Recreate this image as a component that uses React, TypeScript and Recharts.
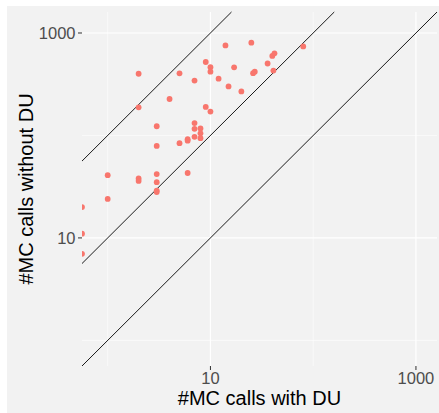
import React from 'react';
import { ScatterChart, Scatter, XAxis, YAxis, ReferenceLine } from 'recharts';

// #MC calls with DU (x) and without DU (y); 0 values are squished to the axis edge like ggplot
const withDU = [0, 0, 0, 1, 1, 2, 2, 2, 2, 3, 3, 3, 3, 3, 3, 4, 5, 5, 6, 6, 6, 7, 7, 7, 7, 8, 8, 8, 9, 9, 10, 10, 10, 12, 14, 15, 17, 20, 25, 26, 27, 36, 40, 42, 41, 80];
const withoutDU = [20, 11, 7, 41, 24, 400, 188, 38, 36, 123, 79, 42, 35, 29, 28, 227, 404, 84, 92, 89, 43, 343, 132, 116, 97, 117, 105, 94, 521, 190, 464, 419, 171, 358, 757, 301, 462, 269, 804, 405, 419, 504, 598, 634, 430, 740];

const majorBreaks = [10, 1000];
const majorLabels = ['10', '1000'];
const minorBreaks = [1, 100];
const ratios = [1, 10, 100];

const AXIS_MIN = 0.5623;
const AXIS_MAX = 1603;

const data = withDU.map((x, i) => ({
  x: Math.max(x, AXIS_MIN),
  y: Math.max(withoutDU[i], AXIS_MIN),
}));

const FONT = '"Liberation Sans", Arial, Helvetica, sans-serif';
const POINT = '#F8766D';
const BG = '#F2F2F2';

const XTick = (props: any) => {
  const { x, y, payload } = props;
  const idx = majorBreaks.indexOf(payload.value);
  return (
    <text x={x} y={y + 14} textAnchor="middle" fontFamily={FONT} fontSize={16.5} fill="#4D4D4D">
      {idx >= 0 ? majorLabels[idx] : payload.value}
    </text>
  );
};

const YTick = (props: any) => {
  const { x, y, payload } = props;
  const idx = majorBreaks.indexOf(payload.value);
  return (
    <text x={x - 2.5} y={y + 6} textAnchor="end" fontFamily={FONT} fontSize={16.5} fill="#4D4D4D">
      {idx >= 0 ? majorLabels[idx] : payload.value}
    </text>
  );
};

const XTitle = (props: any) => {
  const vb = props.viewBox;
  return (
    <text x={vb.x + vb.width / 2} y={vb.y + 39} textAnchor="middle" fontFamily={FONT} fontSize={20} fill="#000">
      #MC calls with DU
    </text>
  );
};

const YTitle = (props: any) => {
  const vb = props.viewBox;
  const cx = 33;
  const cy = vb.y + vb.height / 2;
  return (
    <text x={cx} y={cy} transform={`rotate(-90, ${cx}, ${cy})`} textAnchor="middle" fontFamily={FONT} fontSize={20} fill="#000">
      #MC calls without DU
    </text>
  );
};

const Dot = (props: any) => {
  const { cx, cy } = props;
  if (cx == null || cy == null) return null;
  return <circle cx={cx} cy={cy} r={2.9} fill={POINT} />;
};

export default function App() {
  return (
    <div style={{ position: 'absolute', left: 0, top: 0, width: 439, height: 413, background: '#fff' }}>
      <div style={{ position: 'absolute', left: 7, top: 6, width: 432, height: 407, background: BG }} />
      <div style={{ position: 'absolute', left: 0, top: 0 }}>
        <ScatterChart width={439} height={413} margin={{ top: 12, right: 2, bottom: 0, left: 0 }}>
          <XAxis
            dataKey="x"
            type="number"
            scale="log"
            domain={[AXIS_MIN, AXIS_MAX]}
            allowDataOverflow
            ticks={majorBreaks}
            height={47}
            tickSize={4}
            tickMargin={0}
            axisLine={false}
            tickLine={{ stroke: '#333333', strokeWidth: 1 }}
            tick={XTick}
            label={<XTitle />}
          />
          <YAxis
            dataKey="y"
            type="number"
            scale="log"
            domain={[AXIS_MIN, AXIS_MAX]}
            allowDataOverflow
            ticks={majorBreaks}
            width={82}
            tickSize={4}
            tickMargin={0}
            axisLine={false}
            tickLine={{ stroke: '#333333', strokeWidth: 1 }}
            tick={YTick}
            label={<YTitle />}
          />
          {minorBreaks.map((v) => (
            <ReferenceLine key={`mx${v}`} x={v} stroke="#FFFFFF" strokeWidth={0.6} />
          ))}
          {minorBreaks.map((v) => (
            <ReferenceLine key={`my${v}`} y={v} stroke="#FFFFFF" strokeWidth={0.6} />
          ))}
          {majorBreaks.map((v) => (
            <ReferenceLine key={`Mx${v}`} x={v} stroke="#FFFFFF" strokeWidth={1.2} />
          ))}
          {majorBreaks.map((v) => (
            <ReferenceLine key={`My${v}`} y={v} stroke="#FFFFFF" strokeWidth={1.2} />
          ))}
          {ratios.map((k) => {
            const x0 = Math.max(AXIS_MIN, AXIS_MIN / k);
            const x1 = Math.min(AXIS_MAX, AXIS_MAX / k);
            return (
              <ReferenceLine
                key={`r${k}`}
                segment={[{ x: x0, y: x0 * k }, { x: x1, y: x1 * k }]}
                stroke="#1A1A1A"
                strokeWidth={1}
                ifOverflow="visible"
              />
            );
          })}
          <Scatter data={data} shape={<Dot />} isAnimationActive={false} />
        </ScatterChart>
      </div>
    </div>
  );
}
